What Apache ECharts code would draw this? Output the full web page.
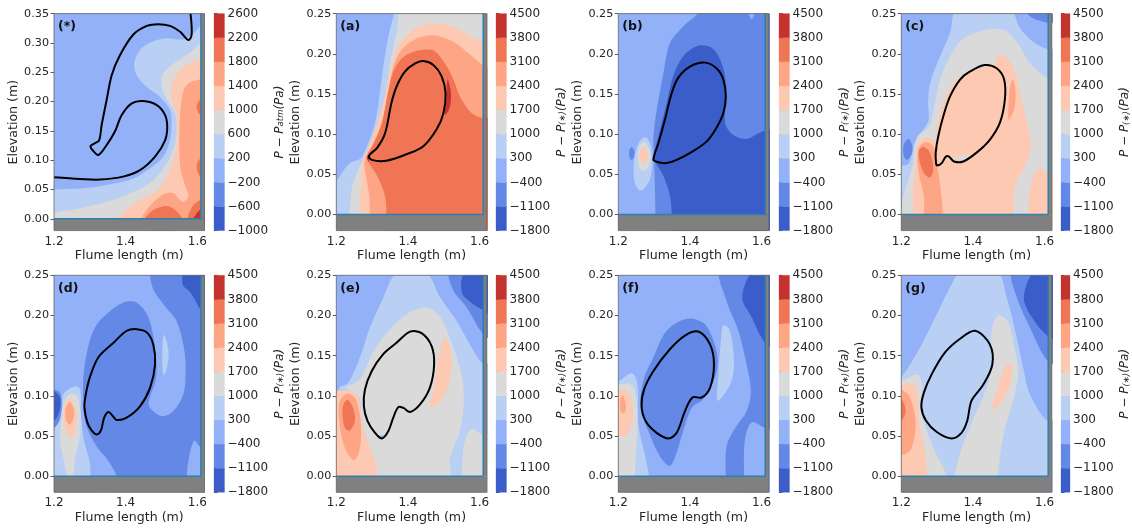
<!DOCTYPE html>
<html><head><meta charset="utf-8">
<style>html,body{margin:0;background:#fff}#c{width:1132px;height:528px;filter:blur(0.6px)}</style>
<script src="https://cdn.jsdelivr.net/npm/echarts@6/dist/echarts.min.js"></script>
</head><body><div id="c"></div>
<script>
const bandColors=['#3b5dc9','#6488e6','#92b1f8','#b9cff3','#dadada','#fdc9b2','#fea585','#ef7555','#c5332f'];
const levelLabelsStar=['−1000','−600','−200','200','600','1000','1400','1800','2200','2600'];
const levelLabelsDiff=['−1800','−1100','−400','300','1000','1700','2400','3100','3800','4500'];
const xTicks=[1.2,1.4,1.6];
const yTicksStar=[0,0.05,0.1,0.15,0.2,0.25,0.3,0.35];
const yTicksDiff=[0,0.05,0.1,0.15,0.2,0.25];
const xLimits=[1.2,1.62];
const yFloor=-0.02;
const wallX=1.61;
const panelLabels=['(*)','(a)','(b)','(c)','(d)','(e)','(f)','(g)'];

const regionsStar=[
[3,[[1.18,.05],[1.2,.05],[1.282,.052],[1.356,.059],[1.421,.069],[1.468,.086],[1.505,.106],[1.524,.134],[1.528,.163],[1.524,.186],[1.496,.208],[1.459,.225],[1.431,.245],[1.424,.265],[1.44,.288],[1.473,.302],[1.514,.308],[1.561,.306],[1.589,.316],[1.608,.328],[1.64,.33],[1.64,-.03],[1.18,-.03]]],
[4,[[1.18,.008],[1.2,.011],[1.273,.018],[1.347,.029],[1.421,.046],[1.477,.066],[1.514,.094],[1.538,.129],[1.542,.157],[1.538,.18],[1.519,.2],[1.502,.22],[1.502,.245],[1.524,.26],[1.556,.274],[1.589,.288],[1.608,.3],[1.64,.31],[1.64,-.03],[1.18,-.03]]],
[5,[[1.365,-.01],[1.421,.025],[1.487,.048],[1.519,.077],[1.538,.112],[1.545,.146],[1.542,.18],[1.528,.203],[1.528,.228],[1.552,.254],[1.584,.266],[1.608,.272],[1.64,.275],[1.64,-.03],[1.365,-.03]]],
[6,[[1.443,-.002],[1.463,.019],[1.505,.042],[1.533,.044],[1.547,.035],[1.561,.029],[1.575,.038],[1.563,.063],[1.552,.089],[1.55,.146],[1.556,.203],[1.57,.228],[1.608,.238],[1.64,.238],[1.64,-.03],[1.44,-.03]]],
[7,[[1.454,-.003],[1.477,.015],[1.514,.022],[1.538,.015],[1.556,-.002],[1.5,-.03]]],
[7,[[1.63,.203],[1.608,.203],[1.598,.191],[1.608,.177],[1.63,.177]]],
[7,[[1.63,.103],[1.608,.103],[1.598,.089],[1.608,.072],[1.63,.072]]],
[7,[[1.575,-.003],[1.585,.02],[1.608,.032],[1.63,.032],[1.63,-.01]]],
[8,[[1.589,-.003],[1.598,.009],[1.608,.015],[1.63,.015],[1.63,-.01]]]
];
const loopStar=[[1.2,.071],[1.273,.068],[1.328,.067],[1.393,.072],[1.44,.083],[1.482,.106],[1.51,.134],[1.516,.157],[1.51,.177],[1.487,.194],[1.449,.201],[1.417,.197],[1.389,.177],[1.37,.149],[1.347,.126],[1.324,.109],[1.308,.117],[1.302,.124],[1.314,.129],[1.326,.134],[1.333,.16],[1.347,.203],[1.361,.245],[1.384,.279],[1.421,.314],[1.459,.329],[1.491,.332],[1.524,.329],[1.552,.319],[1.575,.305],[1.584,.314],[1.581,.35]];

const regionsA=[
[3,[[1.365,.259],[1.361,.25],[1.345,.221],[1.331,.184],[1.32,.147],[1.308,.114],[1.289,.089],[1.268,.07],[1.238,.064],[1.21,.048],[1.2,.041],[1.18,.033],[1.18,-.01],[1.18,-.03],[1.64,-.03],[1.64,.26]]],
[4,[[1.385,.255],[1.37,.23],[1.354,.197],[1.34,.159],[1.324,.122],[1.303,.093],[1.277,.07],[1.257,.052],[1.243,.031],[1.236,-.006],[1.236,-.03],[1.64,-.03],[1.64,.26]]],
[5,[[1.266,-.006],[1.268,.035],[1.273,.064],[1.294,.089],[1.317,.118],[1.336,.147],[1.354,.184],[1.378,.213],[1.424,.232],[1.48,.238],[1.536,.232],[1.573,.222],[1.608,.214],[1.64,.2],[1.64,-.03],[1.266,-.03]]],
[6,[[1.294,-.006],[1.292,.023],[1.28,.056],[1.28,.068],[1.303,.089],[1.327,.114],[1.345,.151],[1.359,.184],[1.382,.205],[1.424,.219],[1.471,.223],[1.527,.215],[1.573,.199],[1.608,.186],[1.64,.175],[1.64,-.03],[1.294,-.03]]],
[7,[[1.34,-.006],[1.336,.023],[1.314,.048],[1.294,.062],[1.285,.072],[1.303,.087],[1.327,.114],[1.342,.147],[1.359,.178],[1.387,.196],[1.429,.204],[1.471,.204],[1.503,.188],[1.527,.168],[1.545,.147],[1.578,.126],[1.608,.12],[1.64,.12],[1.64,-.03],[1.34,-.03]]],
[8,[[1.511,.168],[1.519,.155],[1.52,.143],[1.514,.13],[1.503,.124],[1.508,.143],[1.508,.157]]],
[8,[[1.285,.072],[1.293,.072],[1.29,.066]]]
];
const loopA=[[1.291,.073],[1.314,.083],[1.336,.101],[1.354,.139],[1.368,.159],[1.392,.178],[1.42,.188],[1.443,.191],[1.471,.186],[1.494,.172],[1.505,.151],[1.499,.126],[1.48,.106],[1.443,.085],[1.396,.075],[1.34,.067],[1.299,.068],[1.291,.073]];

const regionsB=[
[1,[[1.433,.257],[1.423,.25],[1.381,.234],[1.344,.213],[1.326,.176],[1.309,.135],[1.298,.097],[1.3,.068],[1.302,.035],[1.304,-.006],[1.304,-.03],[1.64,-.03],[1.64,.26]]],
[0,[[1.35,-.006],[1.344,.023],[1.326,.048],[1.302,.066],[1.298,.072],[1.314,.101],[1.335,.139],[1.353,.172],[1.381,.197],[1.423,.21],[1.465,.206],[1.493,.182],[1.502,.151],[1.498,.114],[1.521,.099],[1.558,.094],[1.595,.102],[1.611,.105],[1.64,.105],[1.64,-.03],[1.35,-.03]]],
[1,[[1.237,.084],[1.245,.079],[1.244,.072],[1.237,.068],[1.231,.072],[1.231,.08]]],
[3,[[1.277,.096],[1.293,.081],[1.291,.048],[1.274,.033],[1.259,.03],[1.245,.041],[1.244,.068],[1.259,.091]]],
[4,[[1.274,.09],[1.288,.079],[1.288,.064],[1.274,.054],[1.259,.058],[1.254,.072],[1.259,.085]]],
[5,[[1.27,.084],[1.281,.077],[1.281,.068],[1.272,.064],[1.261,.068],[1.26,.077]]],
[2,[[1.563,.252],[1.572,.243],[1.581,.252],[1.572,.26]]]
];
const loopB=[[1.298,.068],[1.312,.089],[1.33,.118],[1.349,.151],[1.367,.17],[1.4,.184],[1.442,.189],[1.474,.182],[1.493,.168],[1.5,.147],[1.493,.126],[1.474,.108],[1.447,.091],[1.409,.079],[1.363,.068],[1.335,.064],[1.312,.065],[1.298,.068]];

const regionsC=[
[3,[[1.356,.255],[1.336,.226],[1.308,.197],[1.28,.163],[1.275,.139],[1.275,.116],[1.247,.097],[1.233,.085],[1.222,.064],[1.2,.06],[1.18,.06],[1.18,-.03],[1.64,-.03],[1.64,.205],[1.607,.206],[1.568,.215],[1.531,.232],[1.503,.255]]],
[4,[[1.196,-.006],[1.206,.023],[1.22,.043],[1.233,.064],[1.243,.095],[1.278,.11],[1.294,.139],[1.308,.168],[1.331,.192],[1.368,.217],[1.429,.229],[1.485,.23],[1.522,.215],[1.559,.188],[1.607,.17],[1.64,.165],[1.64,-.03],[1.19,-.03]]],
[5,[[1.233,-.006],[1.233,.035],[1.243,.068],[1.247,.088],[1.28,.096],[1.297,.091],[1.3,.11],[1.322,.143],[1.35,.166],[1.382,.175],[1.42,.182],[1.457,.186],[1.471,.198],[1.494,.195],[1.517,.178],[1.536,.143],[1.55,.114],[1.562,.085],[1.55,.064],[1.517,.035],[1.513,-.006],[1.51,-.03],[1.233,-.03]]],
[5,[[1.553,-.006],[1.559,.031],[1.582,.057],[1.607,.053],[1.64,.05],[1.64,-.03],[1.553,-.03]]],
[4,[[1.345,.07],[1.39,.075],[1.385,.069],[1.36,.067]]],
[6,[[1.266,.09],[1.289,.085],[1.297,.068],[1.31,.031],[1.311,-.006],[1.269,-.006],[1.263,.023],[1.247,.056],[1.247,.081]]],
[6,[[1.511,.168],[1.519,.151],[1.514,.13],[1.5,.118],[1.5,.143],[1.503,.157]]],
[7,[[1.261,.084],[1.28,.077],[1.289,.056],[1.28,.046],[1.263,.052],[1.25,.068],[1.25,.08]]],
[1,[[1.22,.094],[1.231,.085],[1.229,.075],[1.215,.068],[1.206,.075],[1.207,.087]]],
[1,[[1.545,.255],[1.564,.245],[1.587,.241],[1.607,.239],[1.64,.24],[1.64,.26]]]
];
const loopC=[[1.3,.061],[1.313,.064],[1.324,.072],[1.333,.072],[1.347,.066],[1.373,.066],[1.41,.077],[1.447,.093],[1.475,.114],[1.489,.143],[1.487,.168],[1.466,.182],[1.433,.186],[1.392,.178],[1.364,.168],[1.336,.147],[1.317,.122],[1.303,.097],[1.296,.077],[1.297,.064],[1.3,.061]];

const regionsD=[
[1,[[1.475,.256],[1.475,.235],[1.505,.214],[1.542,.193],[1.564,.156],[1.567,.127],[1.561,.102],[1.533,.081],[1.5,.075],[1.468,.085],[1.465,.094],[1.485,.123],[1.482,.16],[1.463,.198],[1.431,.216],[1.393,.216],[1.347,.202],[1.314,.185],[1.293,.156],[1.282,.123],[1.282,.089],[1.289,.064],[1.319,.037],[1.352,.019],[1.38,-.006],[1.38,-.03],[1.64,-.03],[1.64,.26]]],
[0,[[1.566,.256],[1.559,.239],[1.58,.229],[1.598,.216],[1.608,.208],[1.64,.2],[1.64,.26]]],
[3,[[1.259,.112],[1.273,.108],[1.275,.081],[1.282,.048],[1.299,.019],[1.302,-.006],[1.3,-.03],[1.18,-.03],[1.18,.06],[1.2,.064],[1.221,.081],[1.226,.102]]],
[1,[[1.18,.11],[1.2,.108],[1.217,.104],[1.221,.085],[1.215,.069],[1.2,.06],[1.18,.058]]],
[0,[[1.18,.106],[1.2,.106],[1.217,.098],[1.215,.081],[1.2,.069],[1.18,.069]]],
[4,[[1.243,.102],[1.265,.1],[1.274,.077],[1.273,.052],[1.259,.023],[1.252,-.006],[1.24,-.006],[1.228,.019],[1.217,.044],[1.22,.069],[1.226,.089]]],
[5,[[1.243,.097],[1.259,.087],[1.263,.069],[1.247,.047],[1.231,.06],[1.228,.085]]],
[6,[[1.245,.092],[1.256,.081],[1.252,.069],[1.243,.064],[1.233,.071],[1.233,.085]]],
[3,[[1.507,.176],[1.52,.154],[1.513,.131],[1.505,.126],[1.502,.152]]],
[2,[[1.57,-.006],[1.575,.019],[1.591,.044],[1.608,.037],[1.64,.03],[1.64,-.03],[1.57,-.03]]]
];
const loopD=[[1.285,.085],[1.293,.067],[1.305,.057],[1.319,.052],[1.331,.057],[1.34,.073],[1.352,.08],[1.364,.075],[1.375,.07],[1.403,.073],[1.44,.087],[1.468,.11],[1.482,.139],[1.477,.164],[1.459,.179],[1.431,.183],[1.403,.181],[1.366,.166],[1.324,.148],[1.3,.123],[1.288,.1],[1.285,.085]];

const regionsE=[
[3,[[1.368,.252],[1.327,.218],[1.294,.185],[1.266,.148],[1.233,.116],[1.208,.11],[1.2,.085],[1.18,.085],[1.18,-.03],[1.64,-.03],[1.64,.14],[1.608,.141],[1.573,.164],[1.536,.193],[1.489,.223],[1.452,.252]]],
[4,[[1.42,.207],[1.461,.209],[1.494,.195],[1.527,.16],[1.547,.131],[1.556,.098],[1.547,.06],[1.517,.021],[1.515,-.006],[1.314,-.006],[1.299,.023],[1.271,.069],[1.264,.098],[1.233,.108],[1.224,.11],[1.266,.121],[1.303,.155],[1.35,.183],[1.387,.198]]],
[4,[[1.55,-.006],[1.552,.019],[1.559,.044],[1.578,.059],[1.608,.052],[1.64,.05],[1.64,-.03],[1.55,-.03]]],
[2,[[1.32,.05],[1.335,.05],[1.33,.046]]],
[5,[[1.18,.106],[1.2,.106],[1.238,.106],[1.261,.098],[1.273,.064],[1.294,.035],[1.311,.015],[1.315,-.006],[1.315,-.03],[1.18,-.03]]],
[5,[[1.503,.172],[1.517,.16],[1.522,.135],[1.503,.102],[1.475,.087],[1.461,.087],[1.473,.11],[1.487,.152]]],
[6,[[1.233,.103],[1.257,.094],[1.269,.06],[1.264,.031],[1.249,.02],[1.224,.035],[1.208,.069],[1.21,.094]]],
[7,[[1.231,.095],[1.247,.085],[1.252,.069],[1.238,.057],[1.224,.06],[1.217,.079],[1.22,.089]]],
[1,[[1.517,.256],[1.527,.231],[1.564,.21],[1.608,.178],[1.64,.17],[1.64,.26]]],
[0,[[1.561,.256],[1.55,.229],[1.582,.214],[1.608,.207],[1.64,.2],[1.64,.26]]]
];
const loopE=[[1.277,.087],[1.287,.069],[1.308,.054],[1.327,.047],[1.345,.056],[1.359,.073],[1.373,.086],[1.387,.085],[1.406,.08],[1.433,.089],[1.461,.11],[1.473,.139],[1.466,.162],[1.438,.178],[1.406,.18],[1.368,.166],[1.331,.152],[1.299,.131],[1.28,.108],[1.277,.087]];

const regionsF=[
[1,[[1.391,.196],[1.437,.191],[1.46,.175],[1.477,.148],[1.47,.123],[1.437,.096],[1.405,.085],[1.381,.056],[1.361,.027],[1.344,.013],[1.316,.025],[1.284,.056],[1.262,.085],[1.27,.119],[1.298,.148],[1.335,.181]]],
[1,[[1.486,.256],[1.502,.218],[1.535,.181],[1.558,.139],[1.57,.106],[1.558,.081],[1.526,.06],[1.502,.037],[1.5,-.006],[1.5,-.03],[1.64,-.03],[1.64,.26]]],
[2,[[1.551,-.006],[1.553,.044],[1.572,.067],[1.609,.06],[1.64,.055],[1.64,-.03],[1.551,-.03]]],
[0,[[1.577,.256],[1.546,.223],[1.572,.198],[1.609,.166],[1.64,.16],[1.64,.26]]],
[3,[[1.493,.188],[1.51,.183],[1.521,.156],[1.521,.127],[1.502,.106],[1.477,.094],[1.479,.123],[1.487,.173]]],
[3,[[1.18,.118],[1.2,.118],[1.237,.128],[1.253,.116],[1.256,.064],[1.274,.027],[1.288,-.006],[1.288,-.03],[1.18,-.03]]],
[4,[[1.18,.113],[1.2,.114],[1.231,.115],[1.247,.106],[1.254,.064],[1.248,.023],[1.247,-.006],[1.247,-.03],[1.18,-.03]]],
[5,[[1.18,.108],[1.2,.108],[1.223,.107],[1.24,.087],[1.237,.064],[1.219,.05],[1.2,.05],[1.18,.05]]],
[6,[[1.211,.101],[1.221,.089],[1.217,.079],[1.209,.079],[1.205,.089]]]
];
const loopF=[[1.265,.087],[1.277,.068],[1.307,.054],[1.34,.047],[1.363,.054],[1.386,.081],[1.407,.098],[1.433,.098],[1.456,.11],[1.467,.139],[1.456,.164],[1.423,.18],[1.386,.175],[1.344,.158],[1.298,.131],[1.272,.108],[1.265,.087]];

const regionsG=[
[3,[[1.368,.256],[1.336,.235],[1.308,.21],[1.252,.16],[1.2,.123],[1.18,.115],[1.18,-.03],[1.64,-.03],[1.64,.07],[1.607,.069],[1.559,.102],[1.54,.135],[1.522,.173],[1.494,.223],[1.466,.256]]],
[1,[[1.511,.256],[1.522,.223],[1.559,.185],[1.607,.144],[1.64,.14],[1.64,.26]]],
[0,[[1.573,.256],[1.542,.223],[1.564,.198],[1.607,.175],[1.64,.17],[1.64,.26]]],
[4,[[1.18,.12],[1.2,.119],[1.247,.126],[1.26,.104],[1.254,.085],[1.285,.04],[1.322,.006],[1.331,-.006],[1.331,-.03],[1.18,-.03]]],
[4,[[1.347,-.006],[1.364,.029],[1.401,.071],[1.433,.104],[1.452,.135],[1.452,.181],[1.471,.2],[1.499,.191],[1.517,.156],[1.527,.131],[1.513,.096],[1.485,.052],[1.468,-.006],[1.468,-.03],[1.347,-.03]]],
[5,[[1.494,.139],[1.508,.137],[1.503,.114],[1.475,.089],[1.455,.085],[1.468,.11]]],
[5,[[1.18,.114],[1.2,.109],[1.21,.115],[1.233,.114],[1.247,.098],[1.249,.069],[1.266,.031],[1.273,-.006],[1.273,-.03],[1.18,-.03]]],
[6,[[1.18,.11],[1.2,.108],[1.222,.1],[1.24,.069],[1.229,.035],[1.21,.027],[1.2,.027],[1.18,.027]]],
[7,[[1.18,.095],[1.2,.096],[1.212,.081],[1.2,.069],[1.18,.069]]]
];
const loopG=[[1.256,.086],[1.269,.069],[1.299,.055],[1.34,.047],[1.368,.054],[1.384,.069],[1.396,.094],[1.429,.114],[1.454,.139],[1.447,.164],[1.406,.181],[1.364,.171],[1.322,.154],[1.285,.127],[1.263,.104],[1.256,.086]];

const allRegions=[regionsStar,regionsA,regionsB,regionsC,regionsD,regionsE,regionsF,regionsG];
const allLoops=[loopStar,loopA,loopB,loopC,loopD,loopE,loopF,loopG];
const gridLefts=[54,336.3,618.3,901.3];
const cbarLefts=[214,496,779,1061];
const FONT='"DejaVu Sans"';
const TXT='#262626';
const opt={animation:false,backgroundColor:'#fff',title:[],grid:[],xAxis:[],yAxis:[],series:[]};
function polyRender(list,colorOf){
  return (params,api)=>{
    const r=list[params.dataIndex];
    return {type:'polygon',shape:{points:r[1].map(p=>api.coord(p)),smooth:r[2]===undefined?0.33:r[2]},style:{fill:colorOf(r[0]),stroke:null}};
  };
}
function loopRender(pts){
  const first=pts[0],last=pts[pts.length-1];
  const closed=first[0]===last[0]&&first[1]===last[1];
  const use=closed?pts.slice(0,-1):pts;
  return (params,api)=>({type:closed?'polygon':'polyline',shape:{points:use.map(p=>api.coord(p)),smooth:0.33},
    style:{fill:null,stroke:'#000',lineWidth:2,lineJoin:'round'}});
}
allRegions.forEach((regions,p)=>{
  const col=p%4,row=p<4?0:1;
  const top=row?275.3:13.6,h=217;
  const star=p===0;
  const yMax=star?0.35:0.25;
  const yTicks=star?yTicksStar:yTicksDiff;
  const gi=opt.grid.length;
  opt.title.push({text:panelLabels[p],left:gridLefts[col]+4,top:top+6.5,padding:0,textStyle:{fontFamily:FONT,fontWeight:'bold',fontSize:12.5,color:'#111'}});
  opt.grid.push({left:gridLefts[col],top,width:150.5,height:h,show:true,backgroundColor:bandColors[2],borderWidth:0,containLabel:false});
  opt.xAxis.push({gridIndex:gi,type:'value',min:xLimits[0],max:xLimits[1],splitLine:{show:false},
    axisLine:{show:false},axisTick:{show:true,length:3.5,customValues:xTicks,lineStyle:{color:'#333',width:.8}},
    axisLabel:{customValues:xTicks,formatter:v=>v.toFixed(1),fontFamily:FONT,fontSize:12,color:TXT,margin:5,hideOverlap:false,showMinLabel:true,showMaxLabel:true},
    name:'Flume length (m)',nameLocation:'middle',nameGap:18.5,nameTextStyle:{fontFamily:FONT,fontSize:12.6,color:TXT}});
  opt.yAxis.push({gridIndex:gi,type:'value',min:yFloor,max:yMax,splitLine:{show:false},
    axisLine:{show:false},axisTick:{show:true,length:3.5,customValues:yTicks,lineStyle:{color:'#333',width:.8}},
    axisLabel:{customValues:yTicks,formatter:v=>v.toFixed(2),fontFamily:FONT,fontSize:11.2,color:TXT,margin:5,hideOverlap:false},
    name:'Elevation (m)',nameLocation:'middle',nameGap:32,nameTextStyle:{fontFamily:FONT,fontSize:12.6,color:TXT}});
  opt.series.push({type:'custom',xAxisIndex:gi,yAxisIndex:gi,clip:true,z:1,silent:true,
    data:regions.map((r,i)=>[r[1][0][0],r[1][0][1]]),
    renderItem:polyRender(regions,b=>bandColors[b])});
  const floorRegions=[[0,[[xLimits[0],yFloor],[xLimits[1],yFloor],[xLimits[1],0],[xLimits[0],0]],0],[0,[[wallX,0],[xLimits[1],0],[xLimits[1],yMax],[wallX,yMax]],0]];
  opt.series.push({type:'custom',xAxisIndex:gi,yAxisIndex:gi,clip:true,z:2,silent:true,
    data:floorRegions.map(r=>[r[1][0][0],r[1][0][1]]),
    renderItem:polyRender(floorRegions,()=>'#808080')});
  opt.series.push({type:'line',xAxisIndex:gi,yAxisIndex:gi,z:3,symbol:'none',silent:true,clip:false,
    data:[[xLimits[0],0],[wallX,0],[wallX,yMax]],lineStyle:{color:'#2d7fb0',width:1.5}});
  opt.series.push({type:'custom',xAxisIndex:gi,yAxisIndex:gi,z:4,silent:true,clip:true,
    data:[allLoops[p][0]],renderItem:loopRender(allLoops[p])});
  opt.series.push({type:'line',xAxisIndex:gi,yAxisIndex:gi,z:5,symbol:'none',silent:true,clip:false,
    data:[[xLimits[0],yFloor],[xLimits[1],yFloor],[xLimits[1],yMax],[xLimits[0],yMax],[xLimits[0],yFloor]],lineStyle:{color:'#666',width:.8}});
  // colour bar
  const ci=opt.grid.length;
  const labels=star?levelLabelsStar:levelLabelsDiff;
  opt.grid.push({left:cbarLefts[col],top,width:10.5,height:h,show:false});
  opt.xAxis.push({gridIndex:ci,type:'value',min:0,max:1,show:false});
  opt.yAxis.push({gridIndex:ci,type:'category',position:'right',boundaryGap:false,data:labels,
    axisLine:{show:false},axisTick:{show:true,length:3.5,alignWithLabel:true,interval:0,lineStyle:{color:'#333',width:.8}},splitLine:{show:false},
    axisLabel:{interval:0,fontFamily:FONT,fontSize:12,color:TXT,margin:3,hideOverlap:false},
    name:'{i|'+'P − P}{s|'+(star?'atm':'(∗)')+'}{i|(Pa)}',nameLocation:'middle',nameRotate:90,nameGap:49,
    nameTextStyle:{fontFamily:FONT,rich:{i:{fontFamily:FONT,fontStyle:'italic',fontSize:12,color:TXT},s:{fontFamily:FONT,fontStyle:'italic',fontSize:8.5,color:TXT,verticalAlign:'bottom',lineHeight:10,padding:[4,0,0,0]}}}});
  opt.series.push({type:'custom',xAxisIndex:ci,yAxisIndex:ci,z:1,silent:true,
    data:bandColors.map((c,i)=>[0,i]),
    renderItem:(params,api)=>{
      const i=params.dataIndex,a=api.coord([0,i]),b=api.coord([1,i+1]);
      return {type:'rect',shape:{x:a[0],y:b[1],width:b[0]-a[0],height:a[1]-b[1]},style:{fill:bandColors[i],stroke:bandColors[i],lineWidth:.3}};
    }});
});
echarts.init(document.getElementById('c'),null,{renderer:'canvas'}).setOption(opt);
</script></body></html>
